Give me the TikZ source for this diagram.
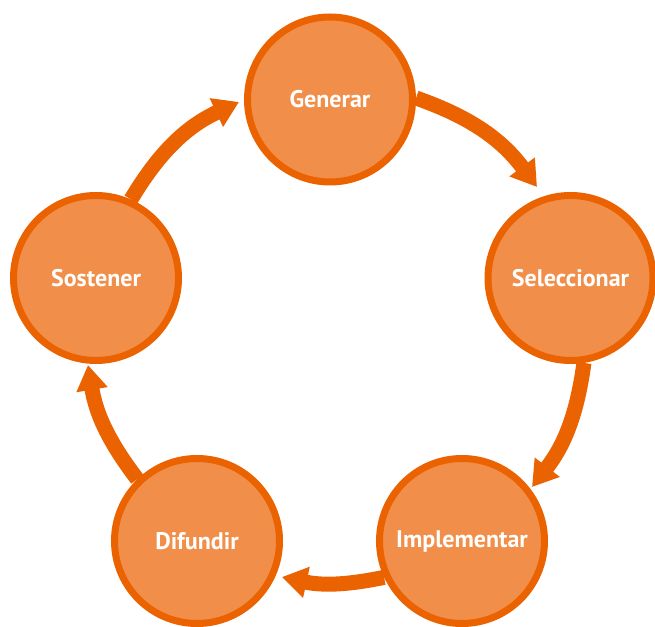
\documentclass[tikz,border=0pt]{standalone}
\usepackage{fontspec}
\setmainfont{PT Sans}
\usetikzlibrary{arrows.meta}
\pgfdeclarelayer{bg}
\pgfsetlayers{bg,main}
\definecolor{ringor}{RGB}{235,98,0}
\definecolor{fillor}{RGB}{241,143,74}
\tikzset{
  stage/.style={circle, draw=ringor, fill=fillor, line width=7pt,
    minimum size=165pt, inner sep=0pt, text=white,
    font=\fontsize{24}{28}\selectfont\bfseries},
  cyc/.style={draw=ringor, line width=15pt,
    -{Triangle[length=25pt,width=30pt]}}
}
\begin{document}
\begin{tikzpicture}[x=1pt,y=1pt]
\useasboundingbox (0,0) rectangle (655,626);
\node[stage] (G) at (330,526.5) {Generar};
\node[stage] (S) at (570.5,348) {Seleccionar};
\node[stage] (I) at (462,85) {Implementar};
\node[stage] (D) at (197,85) {Difundir};
\node[stage] (T) at (96,348) {Sostener};
\coordinate (t1) at (537,439);
\coordinate (t2) at (532,139);
\coordinate (t3) at (282,49);
\coordinate (t4) at (88,261);
\coordinate (t5) at (239,524);
\begin{pgfonlayer}{bg}
\draw[cyc] (G.1) to[bend left=17] (t1);
\draw[cyc] (S.-81) to[bend left=15] (t2);
\draw[cyc] (I.205) to[bend left=12] (t3);
\draw[cyc] (D.134) to[bend left=14] (t4);
\draw[cyc] (T.66) to[bend left=17] (t5);
\end{pgfonlayer}
\end{tikzpicture}
\end{document}
